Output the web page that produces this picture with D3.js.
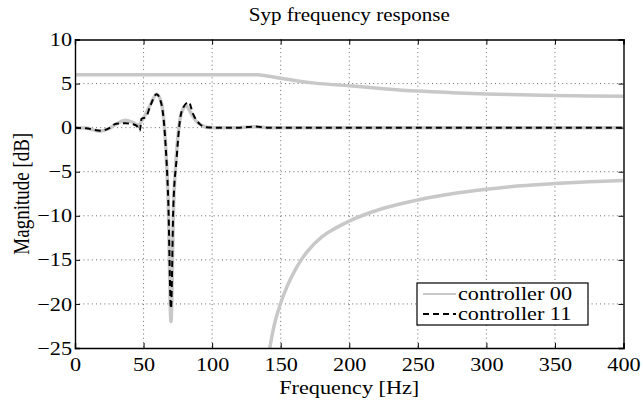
<!DOCTYPE html>
<html><head><meta charset="utf-8">
<script src="https://cdn.jsdelivr.net/npm/d3@7"></script>
<style>body{margin:0;background:#fff}svg{display:block}</style>
</head><body><svg id="c" width="643" height="402"></svg>
<script>
// ---- data ----
const xTicks = [0,50,100,150,200,250,300,350,400];
const yTicks = [10,5,0,-5,-10,-15,-20,-25];
const seriesNames = ["controller 00","controller 11"];
// controller 00 (gray): upper branch
const c00UpperHz  = [0,133,140,150,160,175,200,225,250,275,300,325,350,375,400];
const c00UpperDb  = [6.0,6.0,5.85,5.6,5.35,5.05,4.75,4.42,4.15,3.97,3.83,3.72,3.64,3.58,3.55];
// controller 00 (gray): lower branch
const c00LowerHz  = [142,145,150,155,160,165,170,180,190,200,225,250,275,300,325,350,375,400];
const c00LowerDb  = [-25,-22.6,-19.9,-17.9,-16.3,-15.0,-13.95,-12.4,-11.4,-10.6,-9.15,-8.2,-7.5,-7.0,-6.6,-6.35,-6.15,-6.0];
// controller 00 (gray): low-frequency branch
const c00MidHz    = [0,8,18,25,30,37,42,46,50,55,59.5,63,66,68,70,72,74,76.5,79,81,84,88,92,96,101,120,131,140,160,200,300,400];
const c00MidDb    = [0,-0.05,-0.4,-0.1,0.4,0.85,0.6,0.3,1.1,2.6,3.8,2.8,-1.8,-8.5,-22,-8.5,-3.0,0.9,2.2,2.5,1.8,0.8,0.3,0.05,0,0,0.1,0,0,0,0,0];
// controller 11 (dashed black)
const c11Hz       = [0,8,19,25,30,37,42,45,47.3,48.5,51.7,55,59.5,63,66,68,70,71.7,74,76.5,79,83,86,91,96,101,120,131,140,160,200,300,400];
const c11Db       = [0,-0.07,-0.35,-0.05,0.45,0.5,0.4,0.2,-0.35,1.0,1.2,2.5,3.8,2.7,-1.8,-8.2,-20.5,-9,-3.7,0.8,2.3,2.9,1.6,0.4,0.04,0,0,0.12,0,0,0,0,0];

// ---- layout ----
const FONT = '"Liberation Serif","Times New Roman","DejaVu Serif",serif';
const SX = 1.17; // horizontal stretch of the reference's lettering
const svg = d3.select("#c");
const L=75, R=623.5, T=39.5, B=348;
const x = d3.scaleLinear().domain([0,400]).range([L,R]);
const y = d3.scaleLinear().domain([-25,10]).range([B,T]);

// grid
const grid = svg.append("g").attr("stroke","#444").attr("stroke-width",0.8).attr("stroke-dasharray","1,3.2");
xTicks.slice(1,-1).forEach(v=>grid.append("line").attr("x1",x(v)).attr("x2",x(v)).attr("y1",T).attr("y2",B));
yTicks.slice(1,-1).forEach(v=>grid.append("line").attr("x1",L).attr("x2",R).attr("y1",y(v)).attr("y2",y(v)));

svg.append("clipPath").attr("id","pc").append("rect").attr("x",L).attr("y",T).attr("width",R-L).attr("height",B-T);
const plot = svg.append("g").attr("clip-path","url(#pc)");
const line = d3.line().x(d=>x(d[0])).y(d=>y(d[1])).curve(d3.curveMonotoneX);
const zip=(a,b)=>a.map((v,i)=>[v,b[i]]);
const gray="#c8c8c8";
[ [c00UpperHz,c00UpperDb],[c00LowerHz,c00LowerDb],[c00MidHz,c00MidDb] ].forEach(([h,d])=>{
  plot.append("path").attr("d",line(zip(h,d))).attr("fill","none").attr("stroke",gray).attr("stroke-width",3.5);
});
plot.append("path").attr("d",line(zip(c11Hz,c11Db))).attr("fill","none").attr("stroke","#000").attr("stroke-width",2).attr("stroke-dasharray","6,4");

// axes
const ax = svg.append("g").attr("transform",`translate(0,${B})`).call(d3.axisBottom(x).tickValues(xTicks).tickSize(-5).tickPadding(10).tickFormat(d3.format("d")));
const axT = svg.append("g").attr("transform",`translate(0,${T})`).call(d3.axisTop(x).tickValues(xTicks).tickSize(-5).tickFormat(""));
const ay = svg.append("g").attr("transform",`translate(${L},0)`).call(d3.axisLeft(y).tickValues(yTicks).tickSize(-5).tickPadding(3).tickFormat(d=>d<0?"\u2212"+(-d):d));
const ayR = svg.append("g").attr("transform",`translate(${R},0)`).call(d3.axisRight(y).tickValues(yTicks).tickSize(-5).tickFormat(""));
[ax,axT,ay,ayR].forEach(g=>{g.attr("font-family",FONT).attr("font-size",19);g.select(".domain").attr("stroke","#000").attr("stroke-width",1.4);g.selectAll(".tick line").attr("stroke","#000");g.selectAll("text").style("font-family",FONT).style("font-size","19px").attr("fill","#000");});
ax.selectAll(".tick text").attr("transform",`scale(${SX},1)`);
ay.selectAll(".tick text").attr("x",-3/SX).attr("transform",`scale(${SX},1)`);

// titles
const stext=(px,py,size,s,anchor)=>svg.append("g").attr("transform",`translate(${px},${py}) scale(${SX},1)`)
  .append("text").attr("text-anchor",anchor||"middle").style("font-family",FONT).style("font-size",size+"px").attr("fill","#000").text(s);
stext((L+R)/2,21,18,"Syp frequency response");
stext((L+R)/2,394,19,"Frequency [Hz]");
svg.append("g").attr("transform",`translate(29,${(T+B)/2}) rotate(-90) scale(1,${SX})`)
  .append("text").attr("text-anchor","middle").style("font-family",FONT).style("font-size","19px").attr("fill","#000").text("Magnitude [dB]");

// legend
const lg = svg.append("g");
lg.append("rect").attr("x",417).attr("y",283).attr("width",171).attr("height",42).attr("fill","#fff").attr("stroke","#000").attr("stroke-width",1.2);
const styles=[{c:gray,w:2,da:null},{c:"#000",w:2,da:"6,4"}];
seriesNames.forEach((n,i)=>{
  const yy=294+i*20;
  lg.append("line").attr("x1",423).attr("x2",456).attr("y1",yy).attr("y2",yy).attr("stroke",styles[i].c).attr("stroke-width",styles[i].w).attr("stroke-dasharray",styles[i].da);
  lg.append("g").attr("transform",`translate(458,${yy+6}) scale(${SX},1)`).append("text").style("font-family",FONT).style("font-size","19px").attr("fill","#000").text(n);
});
</script></body></html>
